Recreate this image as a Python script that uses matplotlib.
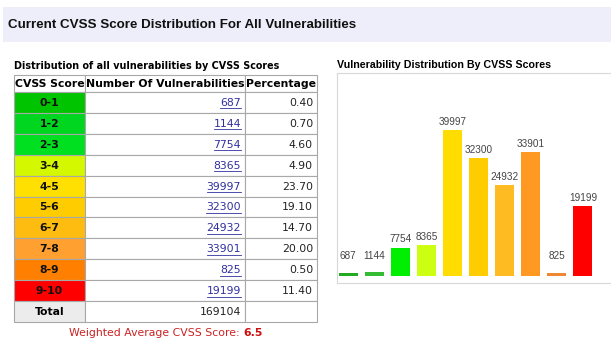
import matplotlib
matplotlib.use("Agg")
import matplotlib.pyplot as plt
from matplotlib.patches import Rectangle

# ---- Data ----
score_ranges = ["0-1", "1-2", "2-3", "3-4", "4-5", "5-6", "6-7", "7-8", "8-9", "9-10"]
vuln_counts = [687, 1144, 7754, 8365, 39997, 32300, 24932, 33901, 825, 19199]
percentages = ["0.40", "0.70", "4.60", "4.90", "23.70", "19.10", "14.70", "20.00", "0.50", "11.40"]
total_count = 169104
weighted_avg = "6.5"

cell_colors = ["#00c400", "#00d620", "#00e020", "#d4f800", "#ffe000",
               "#ffcc00", "#ffbc10", "#ffa030", "#ff8000", "#ff0000"]
bar_colors = ["#22aa22", "#33bb33", "#00ee00", "#ccff11", "#ffdd00",
              "#ffcc00", "#ffbb22", "#ff9922", "#ee8833", "#ff0000"]

W, H = 611, 351
fig = plt.figure(figsize=(W / 100, H / 100), dpi=100)
fig.patch.set_facecolor("white")

# pixel overlay for banner + table
ov = fig.add_axes([0, 0, 1, 1])
ov.set_xlim(0, W)
ov.set_ylim(H, 0)
ov.axis("off")

# ---- Banner ----
ov.add_patch(Rectangle((3, 7), W - 3, 35, facecolor="#eeeefb", edgecolor="none"))
ov.text(8, 25, "Current CVSS Score Distribution For All Vulnerabilities",
        fontsize=9.6, fontweight="bold", family="Liberation Sans",
        color="#111111", va="center", ha="left")

# ---- Table ----
ov.text(14, 66, "Distribution of all vulnerabilities by CVSS Scores",
        fontsize=6.9, fontweight="bold", family="DejaVu Sans", va="center")

col_x = [14, 85, 245, 317]
header_top, header_bot = 75, 92
row_h = 20.9
grid = "#a8a8a8"
verd = "DejaVu Sans"

headers = ["CVSS Score", "Number Of Vulnerabilities", "Percentage"]
for i, h in enumerate(headers):
    ov.add_patch(Rectangle((col_x[i], header_top), col_x[i + 1] - col_x[i],
                           header_bot - header_top, facecolor="white",
                           edgecolor=grid, lw=0.8))
    ov.text((col_x[i] + col_x[i + 1]) / 2, (header_top + header_bot) / 2 + 0.5, h,
            fontsize=7.8, fontweight="bold", family=verd, ha="center", va="center")

fig.canvas.draw()
rend = fig.canvas.get_renderer()

for r, (rng, cnt, pct) in enumerate(zip(score_ranges, vuln_counts, percentages)):
    y0 = header_bot + r * row_h
    yc = y0 + row_h / 2 + 0.5
    ov.add_patch(Rectangle((col_x[0], y0), col_x[1] - col_x[0], row_h,
                           facecolor=cell_colors[r], edgecolor=grid, lw=0.8))
    for c in (1, 2):
        ov.add_patch(Rectangle((col_x[c], y0), col_x[c + 1] - col_x[c], row_h,
                               facecolor="white", edgecolor=grid, lw=0.8))
    ov.text((col_x[0] + col_x[1]) / 2, yc, rng, fontsize=7.8, fontweight="bold",
            family=verd, ha="center", va="center", color="#111111")
    t = ov.text(col_x[2] - 4, yc, str(cnt), fontsize=7.8, family=verd,
                ha="right", va="center", color="#3030a0")
    ov.text(col_x[3] - 4, yc, pct, fontsize=7.8, family=verd,
            ha="right", va="center", color="#222222")
    # underline for the link-style counts
    bb = t.get_window_extent(renderer=rend)
    ov.plot([bb.x0, bb.x1], [yc + 5.5, yc + 5.5], color="#3030a0", lw=0.6)

ty = header_bot + len(score_ranges) * row_h
ov.add_patch(Rectangle((col_x[0], ty), col_x[1] - col_x[0], row_h,
                       facecolor="#ececec", edgecolor=grid, lw=0.8))
for c in (1, 2):
    ov.add_patch(Rectangle((col_x[c], ty), col_x[c + 1] - col_x[c], row_h,
                           facecolor="white", edgecolor=grid, lw=0.8))
ov.text((col_x[0] + col_x[1]) / 2, ty + row_h / 2 + 0.5, "Total", fontsize=7.8,
        fontweight="bold", family=verd, ha="center", va="center")
ov.text(col_x[2] - 4, ty + row_h / 2 + 0.5, str(total_count), fontsize=7.8,
        family=verd, ha="right", va="center", color="#222222")

wt = ov.text(69, 333, "Weighted Average CVSS Score: ", fontsize=7.8, family=verd,
             color="#cc2222", ha="left", va="center")
bb = wt.get_window_extent(renderer=rend)
x_end = ov.transData.inverted().transform((bb.x1, 0))[0]
ov.text(x_end, 333, weighted_avg, fontsize=7.8, fontweight="bold", family=verd,
        color="#cc1111", ha="left", va="center")

# ---- Chart panel ----
ov.text(337, 65, "Vulnerability Distribution By CVSS Scores", fontsize=7.7,
        fontweight="bold", family="Liberation Sans", va="center")
ov.plot([337, W], [73, 73], color="#d8d8d8", lw=0.8)
ov.plot([337, 337], [73, 283], color="#d8d8d8", lw=0.8)
ov.plot([337, W], [283, 283], color="#d8d8d8", lw=0.8)

ax_left, ax_right, ax_bot, ax_top = 335, 596, 276, 90
ax = fig.add_axes([ax_left / W, (H - ax_bot) / H,
                   (ax_right - ax_left) / W, (ax_bot - ax_top) / H])
ax.patch.set_alpha(0)
ymax = max(vuln_counts) * (ax_bot - ax_top) / 146
x = range(len(vuln_counts))
ax.bar(x, vuln_counts, width=0.73, color=bar_colors)
for xi, v in zip(x, vuln_counts):
    ax.text(xi, max(v, 3200) + 900, str(v), fontsize=7.2, family="Liberation Sans",
            color="#444444", ha="center", va="bottom")
ax.set_xlim(-0.5, len(vuln_counts) - 0.5)
ax.set_ylim(0, ymax)
ax.axis("off")

fig.savefig("out.png", dpi=100)
